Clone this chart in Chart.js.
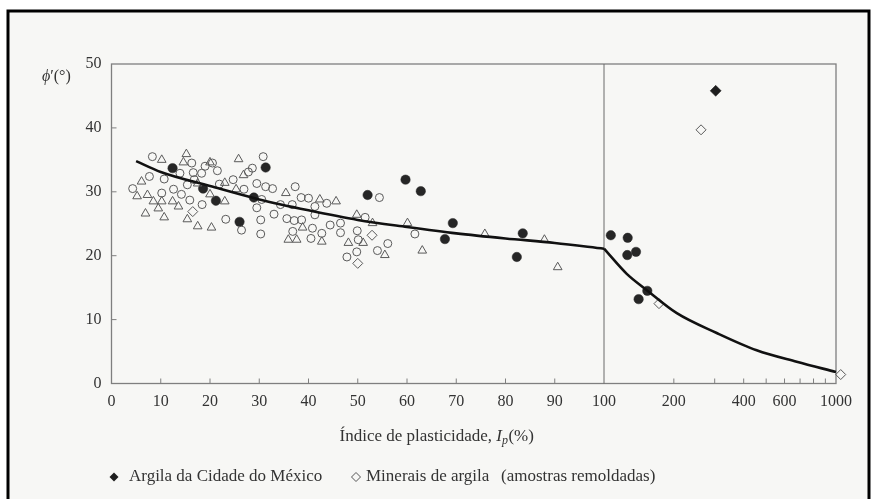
<!DOCTYPE html>
<html>
<head>
<meta charset="utf-8">
<script src="https://cdn.jsdelivr.net/npm/chart.js@4.4.1/dist/chart.umd.min.js"></script>
<style>
  html, body { margin: 0; padding: 0; background: #ffffff; }
  #wrap { width: 873px; height: 499px; position: relative; }
  canvas { display: block; }
</style>
</head>
<body>
<div id="wrap"><canvas id="c" width="873" height="499"></canvas></div>
<script>
// Effective friction angle phi' (deg) against plasticity index Ip (%).
// Mexico City clay (filled markers)
const mexicoIp  = [12.4, 18.6, 21.2, 26.0, 28.9, 31.3, 52.0, 59.7, 62.8, 67.7, 69.3, 82.3, 83.5, 107, 126.5, 126, 137.4, 141, 153.7];
const mexicoPhi = [33.7, 30.5, 28.6, 25.3, 29.1, 33.8, 29.5, 31.9, 30.1, 22.6, 25.1, 19.8, 23.5, 23.2, 22.8, 20.1, 20.6, 13.2, 14.5];
const mexicoDiamondIp  = [303];
const mexicoDiamondPhi = [45.8];

// Clay minerals, remoulded samples (open diamonds)
const mineralIp  = [16.5, 50.0, 52.9, 172.6, 262, 1048];
const mineralPhi = [26.9, 18.8, 23.2, 12.5, 39.7, 1.4];

// Natural soils, open circles
const circleIp  = [8.3, 16.3, 19.0, 20.5, 21.5, 30.8, 13.9, 10.7, 7.7, 16.6, 16.8, 18.3, 24.7, 27.8, 28.6, 29.5, 37.3, 4.3, 10.2, 12.6,
                   15.4, 14.2, 21.9, 26.9, 31.3, 32.7, 38.5, 40.0, 15.9, 18.4, 30.5, 29.5, 34.3, 36.7, 41.3, 23.2, 30.3, 33.0, 35.6, 37.1,
                   38.6, 41.3, 26.4, 30.3, 36.8, 40.8, 40.5, 43.7, 42.7, 44.4, 46.5, 46.5, 49.9, 51.5, 50.1, 47.8, 49.8, 54.0, 56.1, 54.4,
                   61.6];
const circlePhi = [35.5, 34.5, 34.0, 34.5, 33.3, 35.5, 32.9, 32.0, 32.4, 33.0, 31.9, 32.9, 31.9, 33.1, 33.7, 31.3, 30.8, 30.5, 29.8, 30.4,
                   31.1, 29.6, 31.2, 30.4, 30.8, 30.5, 29.1, 29.0, 28.7, 28.0, 28.8, 27.5, 28.0, 28.0, 27.7, 25.7, 25.6, 26.5, 25.8, 25.5,
                   25.6, 26.4, 24.0, 23.4, 23.8, 24.3, 22.7, 28.2, 23.5, 24.8, 25.1, 23.6, 23.9, 26.0, 22.5, 19.8, 20.6, 20.8, 21.9, 29.1,
                   23.4];

// Natural soils, open triangles
const triangleIp  = [10.2, 15.2, 14.6, 20.0, 25.8, 26.8, 6.1, 17.5, 23.0, 25.3, 35.4, 20.0, 5.2, 7.3, 8.5, 10.2, 12.4, 13.6, 23.0, 6.9,
                     9.5, 10.7, 15.4, 17.5, 20.3, 38.8, 35.9, 37.6, 42.3, 45.6, 42.7, 48.1, 49.8, 51.1, 53.0, 55.5, 60.1, 63.1, 75.8, 87.9,
                     90.6];
const trianglePhi = [35.0, 35.9, 34.6, 34.6, 35.1, 32.6, 31.6, 31.3, 31.4, 30.4, 29.8, 29.6, 29.3, 29.5, 28.5, 28.5, 28.5, 27.7, 28.5, 26.6,
                     27.4, 26.0, 25.7, 24.6, 24.4, 24.4, 22.5, 22.5, 28.8, 28.5, 22.2, 22.0, 26.4, 22.0, 25.1, 20.1, 25.1, 20.8, 23.4, 22.5,
                     18.2];

// Mean trend curve, linear branch (Ip <= 100) and log branch (Ip >= 100)
const trendLinIp  = [5, 10, 20, 30, 40, 50, 60, 70, 80, 90, 100];
const trendLinPhi = [34.8, 33.1, 30.9, 28.8, 27.1, 25.6, 24.5, 23.5, 22.7, 22.0, 21.1];
const trendLogIp  = [100, 125, 153, 206, 306, 455, 677, 1000];
const trendLogPhi = [21.1, 17.2, 14.6, 11.0, 7.9, 5.2, 3.4, 1.8];

// Axis ticks
const xTickValues = [0, 10, 20, 30, 40, 50, 60, 70, 80, 90, 100, 200, 300, 400, 500, 600, 700, 800, 900, 1000];
const xTickLabels = ['0', '10', '20', '30', '40', '50', '60', '70', '80', '90', '100', '200', '', '400', '', '600', '', '', '', '1000'];
const xTickMarks  = [10, 20, 30, 40, 50, 60, 70, 80, 90, 200, 300, 400, 500, 600, 700, 800, 900];
const yTickMarks  = [10, 20, 30, 40];

const SERIF = "'Liberation Serif', 'Times New Roman', serif";
const INK = '#333333';
const FRAME = '#7f7f7f';

function pairs(xs, ys) { return xs.map((x, i) => ({ x: x, y: ys[i] })); }

// Horizontal scale: linear from 0 to 100, then one logarithmic decade up to 1000.
const BREAK = 100;
const TOP = 1000;
const LIN_FRAC = 492.5 / 724.5;

class BrokenLogScale extends Chart.LinearScale {
  determineDataLimits() { this.min = 0; this.max = TOP; }
  buildTicks() { return xTickValues.map(v => ({ value: v })); }
  _frac(v) {
    if (v <= BREAK) return (v / BREAK) * LIN_FRAC;
    return LIN_FRAC + Math.log10(v / BREAK) * (1 - LIN_FRAC);
  }
  getPixelForValue(v) {
    if (v === null || v === undefined) return NaN;
    return this.getPixelForDecimal(this._frac(v));
  }
  getValueForPixel(p) {
    const d = this.getDecimalForPixel(p);
    return d <= LIN_FRAC ? (d / LIN_FRAC) * BREAK : BREAK * Math.pow(10, (d - LIN_FRAC) / (1 - LIN_FRAC));
  }
}
BrokenLogScale.id = 'brokenLog';
BrokenLogScale.defaults = Chart.LinearScale.defaults;
Chart.register(BrokenLogScale);

function diamond(ctx, x, y, r, fill) {
  ctx.beginPath();
  ctx.moveTo(x, y - r); ctx.lineTo(x + r, y); ctx.lineTo(x, y + r); ctx.lineTo(x - r, y); ctx.closePath();
  if (fill) { ctx.fillStyle = '#1e1e1e'; ctx.fill(); }
  else { ctx.strokeStyle = '#555'; ctx.lineWidth = 1; ctx.stroke(); }
}

const decor = {
  id: 'decor',
  beforeDraw(chart) {
    const ctx = chart.ctx;
    ctx.save();
    ctx.fillStyle = '#ffffff';
    ctx.fillRect(0, 0, chart.width, chart.height);
    ctx.fillStyle = '#f7f7f5';
    ctx.fillRect(8, 11, 861, 500);
    ctx.strokeStyle = '#000';
    ctx.lineWidth = 3;
    ctx.beginPath();
    ctx.moveTo(8, 505); ctx.lineTo(8, 11); ctx.lineTo(869, 11); ctx.lineTo(869, 505);
    ctx.stroke();
    ctx.restore();
  },
  beforeDatasetsDraw(chart) {
    const { ctx, chartArea: a, scales } = chart;
    const xs = scales.x, ys = scales.y;
    ctx.save();
    ctx.strokeStyle = FRAME;
    ctx.lineWidth = 1.3;
    ctx.strokeRect(a.left, a.top, a.right - a.left, a.bottom - a.top);
    const xb = xs.getPixelForValue(BREAK);
    ctx.lineWidth = 1;
    ctx.strokeStyle = '#6a6a6a';
    ctx.beginPath(); ctx.moveTo(xb, a.top); ctx.lineTo(xb, a.bottom); ctx.stroke();
    ctx.strokeStyle = FRAME;
    ctx.beginPath();
    xTickMarks.forEach(v => {
      const px = xs.getPixelForValue(v);
      ctx.moveTo(px, a.bottom); ctx.lineTo(px, a.bottom - 5);
    });
    yTickMarks.forEach(v => {
      const py = ys.getPixelForValue(v);
      ctx.moveTo(a.left, py); ctx.lineTo(a.left + 5, py);
    });
    ctx.stroke();
    ctx.restore();
  },
  afterDraw(chart) {
    const ctx = chart.ctx;
    ctx.save();
    ctx.fillStyle = INK;
    ctx.textBaseline = 'middle';

    // vertical axis caption
    ctx.font = 'italic 16px ' + SERIF;
    ctx.textAlign = 'left';
    ctx.fillText('\u03D5', 42, 77);
    let w = ctx.measureText('\u03D5').width;
    ctx.font = '16px ' + SERIF;
    ctx.fillText('\u2032(\u00B0)', 42 + w, 77);

    // horizontal axis caption: Índice de plasticidade, I_p(%)
    const partA = '\u00CDndice de plasticidade, ';
    ctx.font = '17px ' + SERIF;
    const wA = ctx.measureText(partA).width;
    const wC = ctx.measureText('(%)').width;
    ctx.font = 'italic 17px ' + SERIF;
    const wI = ctx.measureText('I').width;
    ctx.font = 'italic 12px ' + SERIF;
    const wP = ctx.measureText('p').width;
    let x0 = 436.5 - (wA + wI + wP + wC) / 2;
    const ty = 437;
    ctx.font = '17px ' + SERIF;
    ctx.fillText(partA, x0, ty); x0 += wA;
    ctx.font = 'italic 17px ' + SERIF;
    ctx.fillText('I', x0, ty); x0 += wI;
    ctx.font = 'italic 12px ' + SERIF;
    ctx.fillText('p', x0, ty + 4); x0 += wP + 0.5;
    ctx.font = '17px ' + SERIF;
    ctx.fillText('(%)', x0, ty);

    // key
    const ly = 477;
    diamond(ctx, 114, ly, 4.5, true);
    ctx.fillStyle = INK;
    ctx.font = '17px ' + SERIF;
    ctx.fillText('Argila da Cidade do M\u00E9xico', 129, ly);
    diamond(ctx, 356, ly, 4.5, false);
    ctx.fillStyle = INK;
    ctx.fillText('Minerais de argila', 366, ly);
    ctx.fillText('(amostras remoldadas)', 501, ly);
    ctx.restore();
  }
};

const openStroke = '#5a5a5a';

new Chart(document.getElementById('c'), {
  type: 'scatter',
  data: {
    datasets: [
      {
        label: 'trend',
        type: 'line',
        data: pairs(trendLinIp, trendLinPhi),
        showLine: true,
        borderColor: '#111',
        borderWidth: 2.6,
        pointRadius: 0,
        cubicInterpolationMode: 'monotone',
        fill: false,
        clip: false
      },
      {
        label: 'trend (log)',
        type: 'line',
        data: pairs(trendLogIp, trendLogPhi),
        showLine: true,
        borderColor: '#111',
        borderWidth: 2.6,
        pointRadius: 0,
        cubicInterpolationMode: 'monotone',
        fill: false,
        clip: false
      },
      {
        label: 'Solos (círculos)',
        data: pairs(circleIp, circlePhi),
        pointStyle: 'circle',
        pointRadius: 4,
        backgroundColor: 'rgba(255,255,255,0)',
        borderColor: openStroke,
        borderWidth: 1,
        clip: false
      },
      {
        label: 'Solos (triângulos)',
        data: pairs(triangleIp, trianglePhi),
        pointStyle: 'triangle',
        pointRadius: 5,
        backgroundColor: 'rgba(255,255,255,0)',
        borderColor: openStroke,
        borderWidth: 1,
        clip: false
      },
      {
        label: 'Minerais de argila (amostras remoldadas)',
        data: pairs(mineralIp, mineralPhi),
        pointStyle: 'rectRot',
        pointRadius: 5,
        backgroundColor: 'rgba(255,255,255,0)',
        borderColor: openStroke,
        borderWidth: 1,
        clip: false
      },
      {
        label: 'Argila da Cidade do México',
        data: pairs(mexicoIp, mexicoPhi),
        pointStyle: 'circle',
        pointRadius: 4.7,
        backgroundColor: '#262626',
        borderColor: '#262626',
        borderWidth: 0.5,
        clip: false
      },
      {
        label: 'Argila da Cidade do México (losango)',
        data: pairs(mexicoDiamondIp, mexicoDiamondPhi),
        pointStyle: 'rectRot',
        pointRadius: 5.5,
        backgroundColor: '#1e1e1e',
        borderColor: '#1e1e1e',
        borderWidth: 0.5,
        clip: false
      }
    ]
  },
  options: {
    responsive: false,
    animation: false,
    events: [],
    layout: { padding: { left: 70, right: 37, top: 64, bottom: 90.5 } },
    plugins: { legend: { display: false }, tooltip: { enabled: false } },
    scales: {
      x: {
        type: 'brokenLog',
        position: 'bottom',
        min: 0,
        max: 1000,
        grid: { display: false, drawTicks: false },
        border: { display: false },
        afterFit(s) { s.height = 25; },
        ticks: {
          autoSkip: false,
          maxRotation: 0,
          minRotation: 0,
          padding: 9,
          color: INK,
          font: { family: SERIF, size: 16 },
          callback: (v, i) => xTickLabels[i]
        }
      },
      y: {
        type: 'linear',
        position: 'left',
        min: 0,
        max: 50,
        grid: { display: false, drawTicks: false },
        border: { display: false },
        afterFit(s) { s.width = 41.5; },
        ticks: {
          stepSize: 10,
          padding: 10,
          color: INK,
          font: { family: SERIF, size: 16 }
        }
      }
    }
  },
  plugins: [decor]
});
</script>
</body>
</html>
